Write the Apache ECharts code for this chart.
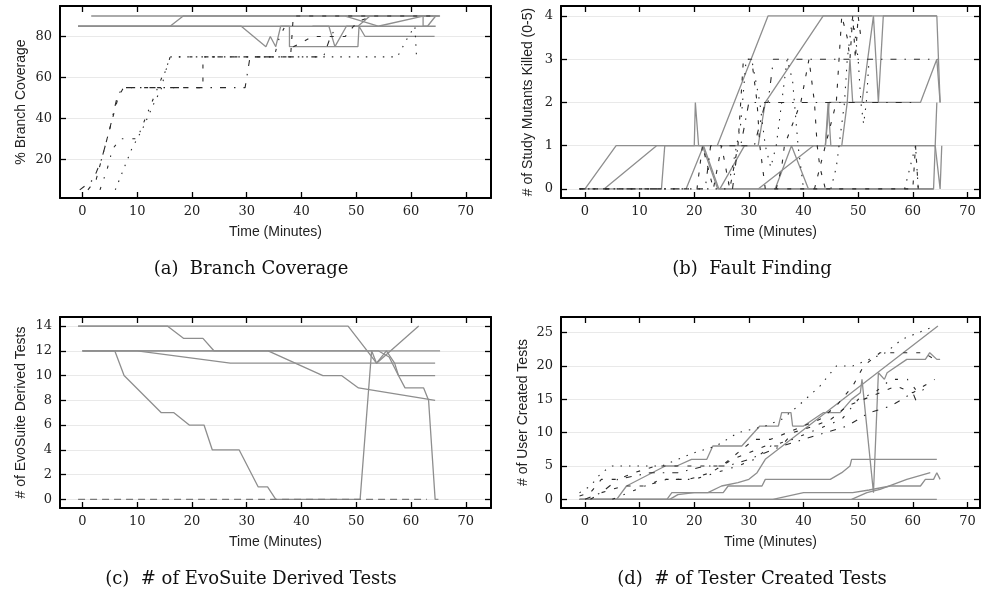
<!DOCTYPE html>
<html><head><meta charset="utf-8">
<script src="https://cdn.jsdelivr.net/npm/echarts@6/dist/echarts.min.js"></script>
<style>html,body{margin:0;padding:0;background:#fff}#c{width:981px;height:592px}</style>
</head><body><div id="c"></div>
<script>
// ---------- tick labels ----------
const xTicks = [0,10,20,30,40,50,60,70];
const yTicksA = [20,40,60,80];
const yTicksB = [0,1,2,3,4];
const yTicksC = [0,2,4,6,8,10,12,14];
const yTicksD = [0,5,10,15,20,25];

// ---------- text ----------
const xTitle = 'Time (Minutes)';
const yTitles = ['% Branch Coverage','# of Study Mutants Killed (0-5)','# of EvoSuite Derived Tests','# of User Created Tests'];
const captions = ['(a)  Branch Coverage','(b)  Fault Finding','(c)  # of EvoSuite Derived Tests','(d)  # of Tester Created Tests'];

// ---------- (a) Branch Coverage ----------
const a_g1 = [[1.6,90],[65.2,90]];
const a_g2 = [[-0.8,85],[16,85],[18.4,90],[65.3,90]];
const a_g3 = [[-0.8,85],[29,85],[33.5,75],[34.3,80],[35.3,75],[36.2,85],[64.5,85]];
const a_g4 = [[-0.8,85],[37.8,85],[37.8,75],[50.3,75],[50.5,85],[51.6,80],[64.3,80]];
const a_g5 = [[42,85],[45,85],[46.1,75],[48.2,85],[50.3,85],[52.5,90],[64,90]];
const a_g6 = [[48,90],[54,85],[62.2,90],[62.2,85],[63,85],[64.5,90]];
const a_k1 = [[-0.5,5],[2,10],[3.5,20],[5,35],[6.3,50],[7.3,55],[29.7,55],[30.6,70],[44,70],[45.3,80],[46.5,85]];
const a_k2 = [[1,5],[2.5,10],[3.5,20],[4.5,30],[5.5,40],[6.5,50],[7.5,55],[22,55],[22,70],[38,70],[38.5,90],[65,90]];
const a_k3 = [[3.2,5],[4.5,15],[5.5,25],[7,30],[10,30],[11.5,40],[13,50],[14.5,60],[15.5,65],[16,70],[35,70],[36,80],[37,85]];
const a_k4 = [[6,5],[7.5,15],[9,25],[11,35],[13,47],[14.5,55],[15,62],[16,70],[57.5,70],[59.5,80],[60.7,85],[61,70]];
const a_k5 = [[38.5,75],[40,77],[42,80],[44,80],[48,80],[49.5,85],[51,88],[53,90]];

// ---------- (b) Fault Finding ----------
const b_g1 = [[0,0],[5.7,1],[64.1,1],[65,0],[65.3,1]];
const b_g2 = [[3.5,0],[13.1,1],[20,1],[20.2,2],[20.8,1],[64.1,1],[64.4,2]];
const b_g3 = [[-1,0],[14,0],[14.6,1],[21.5,1],[24.3,0],[63.8,0],[64.1,1]];
const b_g4 = [[18.5,0],[21.7,1],[24.5,0],[63.8,0]];
const b_g5 = [[24.2,1],[33.5,4],[64.4,4],[65,2]];
const b_g6 = [[24.7,0],[29.2,1],[31.7,1],[33,2],[43.6,4],[52.5,4]];
const b_g7 = [[34.8,0],[37.8,1],[40.9,0],[63.8,0]];
const b_g8 = [[31.7,0],[41.8,1],[44,1],[44.5,2],[45,1],[47,1],[48,2],[48.5,3],[49,2],[50.7,2],[52.8,4],[53.7,2],[54.6,4],[64.4,4]];
const b_g9 = [[44,1],[44.7,2],[61.4,2],[64.4,3],[65,2]];
const b_k1 = [[-1,0],[20.5,0],[21.5,1],[22.5,0.5],[23.5,0],[25,1],[26.5,0],[28,1],[28.5,2],[29,3],[30.5,3],[31.5,2],[32,1],[33,0],[60,0],[60.5,1],[61,0]];
const b_k2 = [[-1,0],[22,0],[23,1],[28.5,1],[30,2],[33.5,2],[34.5,3],[64.6,3]];
const b_k3 = [[27,0],[28,1],[31,1],[33,2],[34,2],[61,2]];
const b_k4 = [[-1,0],[26,0],[27,0.5],[28.5,1.5],[29.5,3],[30.5,3],[32,2],[33,1],[34,0.5],[35,1],[36,2],[37,3],[38,2.5],[39,1],[40,0]];
const b_k5 = [[35,0],[36,0.5],[36.5,1],[38,1.5],[39.5,2],[41,3],[42,2],[42.5,1],[43,0.5],[44,0]];
const b_k6 = [[42,0],[43,0.5],[44,1],[45,1.5],[46,2],[46.5,3],[47,4],[48,3.5],[48.5,3],[49,4],[49.5,3],[50,4],[50.5,3.5]];
const b_k7 = [[45,0],[46,0.5],[46.5,1],[47.5,2],[48,3],[49,4],[49.5,3.5],[50,3],[50.5,2],[51,1.5],[51.5,2],[52,3]];
const b_k8 = [[58.5,0],[59.5,0.5],[60.5,1],[61,0]];

// ---------- (c) EvoSuite Derived Tests ----------
const c_g1 = [[-0.8,14],[15.5,14],[18.5,13],[22,13],[24,12],[65.3,12]];
const c_g2 = [[-0.8,14],[48.5,14],[52,12],[53.7,11],[55.5,12],[57,11],[57.7,10],[58.9,9],[62.3,9],[63.2,8],[64.4,0],[65,0]];
const c_g3 = [[0,12],[5.9,12],[7.6,10],[14.4,7],[16.7,7],[19.5,6],[22.2,6],[23.7,4],[28.6,4],[32.1,1],[33.8,1],[35.3,0],[50.7,0],[52.8,12],[53.7,11],[61.4,14]];
const c_g4 = [[0,12],[10,12],[27,11],[64.4,11]];
const c_g5 = [[0,12],[33.9,12],[43.9,10],[47.3,10],[50.4,9],[64.4,8]];
const c_g6 = [[0,12],[54,12],[56,11.5],[57.7,10],[64.4,10]];
const c_gd = [[-0.8,0],[62.9,0]];

// ---------- (d) Tester Created Tests ----------
const d_g1 = [[-1,0],[5.8,0],[7.6,2],[14.7,5],[16.8,5],[19.5,6],[22.3,6],[23.4,8],[28.7,8],[32,11],[35.4,11],[36,13],[37.7,13],[38,11],[40,11],[43.6,13],[46.7,13],[48.8,15],[50.4,16],[50.7,18],[52.8,1],[53.7,19],[54.8,18],[55.3,19],[58.9,21],[62.3,21],[63.1,22],[64.4,21],[65,21]];
const d_g2 = [[-1,0],[15.5,0],[17,0.7],[20,1],[22.5,1],[25,2],[28,2.5],[30,3],[31.5,4],[33,6],[64.6,26]];
const d_g3 = [[-1,0],[15,0],[15.9,1],[25.3,1],[26.2,2],[32.4,2],[33,3],[44.9,3],[47,4],[48.5,5],[48.8,6],[64.4,6]];
const d_g4 = [[-1,0],[34.4,0],[40,1],[49,1],[52,1.4],[55.9,2],[61.4,2],[62.3,3],[63.8,3],[64.4,4],[65,3]];
const d_g5 = [[48.8,0],[51.6,1],[54,1.5],[58.9,3],[63.2,4]];
const d_g6 = [[-1,0],[64.4,0]];
const d_k1 = [[-1,1],[1,2],[3,4],[5,5],[9,5],[14,5],[17,6],[20,7],[24,8],[28,10],[33,11],[36,12],[39,14],[43,17],[46,20],[49,20],[52,21],[55,22],[58,24],[61,25],[64,26]];
const d_k2 = [[-1,0.5],[1,1],[3,3],[6,3],[9,4],[13,5],[17,5],[21,5],[25,5],[28,7],[31,9],[34,9],[37,10],[40,11],[43,12],[46,14],[49,17],[51,20],[54,22],[58,22],[62,22],[64,21]];
const d_k3 = [[1,0],[3,1],[7,2],[11,2],[15,3],[19,3],[23,4],[27,6],[30,7],[33,8],[36,8],[38,10],[42,11],[45,12],[48,14],[51,15],[54,16],[57,17],[60,16],[62,17],[64,18]];
const d_k4 = [[0,0],[3,1],[6,3],[12,4],[17,4],[22,5],[26,5],[30,6],[33,7],[36,8],[40,9],[44,10],[48,11],[52,13],[56,14],[58,15],[60,16],[61,14]];
const d_k5 = [[5,0],[8,1],[11,2],[14,3],[20,3],[24,4],[28,5],[31,6],[34,8],[38,9],[41,10],[44,11],[47,12],[50,15],[53,16],[56,18],[59,18],[61,16],[63,17]];

// ---------- build ----------
const SERIF = '"DejaVu Serif", "Liberation Serif", serif';
const SANS = '"Liberation Sans", Arial, sans-serif';
const styles = {
  g:  {color:'#8e8e8e', width:1.3, type:'solid'},
  gd: {color:'#7a7a7a', width:1.4, type:[7,5]},
  k1: {color:'#2a2a2a', width:1.1, type:[4,9]},
  k2: {color:'#2a2a2a', width:1.1, type:[6,8,1.5,8]},
  k3: {color:'#2a2a2a', width:1.1, type:[1.5,7]},
  k4: {color:'#2a2a2a', width:1.1, type:[3,9,1.5,9]}
};
const grids = [
  {left:60, top:6, width:431, height:192},
  {left:561, top:6, width:419, height:192},
  {left:60, top:317, width:431, height:191},
  {left:561, top:317, width:419, height:191}
];
const xRanges = [[-4.1,74.6],[-4.39,72.3],[-4.1,74.6],[-4.39,72.3]];
const yRanges = [[1,94.9],[-0.21,4.23],[-0.70,14.73],[-1.3,27.36]];
const yTicksAll = [yTicksA,yTicksB,yTicksC,yTicksD];
const yGaps = [32,26,32,31];

const xAxis = [], yAxis = [];
grids.forEach((g,i)=>{
  const line = {onZero:false, lineStyle:{color:'#000', width:2}};
  xAxis.push({gridIndex:i, type:'value', position:'bottom', min:xRanges[i][0], max:xRanges[i][1],
    axisLine:line, axisTick:{inside:true, length:6, customValues:xTicks, lineStyle:{color:'#000', width:1.3}},
    axisLabel:{customValues:xTicks, fontFamily:SERIF, fontSize:13, color:'#222', margin:7},
    splitLine:{show:false},
    name:xTitle, nameLocation:'middle', nameGap:27, nameTextStyle:{fontFamily:SANS, fontSize:14, color:'#222'}});
  xAxis.push({gridIndex:i, type:'value', position:'top', min:xRanges[i][0], max:xRanges[i][1],
    axisLine:line, axisTick:{inside:true, length:6, customValues:xTicks, lineStyle:{color:'#000', width:1.3}},
    axisLabel:{show:false, customValues:xTicks}, splitLine:{show:false}});
  yAxis.push({gridIndex:i, type:'value', position:'left', min:yRanges[i][0], max:yRanges[i][1],
    axisLine:line, axisTick:{inside:true, length:6, customValues:yTicksAll[i], lineStyle:{color:'#000', width:1.3}},
    axisLabel:{customValues:yTicksAll[i], fontFamily:SERIF, fontSize:13, color:'#222', margin:8},
    splitLine:{show:true, lineStyle:{color:'#e9e9e9', width:1}},
    name:yTitles[i], nameLocation:'middle', nameGap:yGaps[i], nameRotate:90, nameTextStyle:{fontFamily:SANS, fontSize:14, color:'#222'}});
  yAxis.push({gridIndex:i, type:'value', position:'right', min:yRanges[i][0], max:yRanges[i][1],
    axisLine:line, axisTick:{inside:true, length:6, customValues:yTicksAll[i], lineStyle:{color:'#000', width:1.3}},
    axisLabel:{show:false, customValues:yTicksAll[i]}, splitLine:{show:false}});
});

const series = [];
function add(gi, data, st){
  series.push({type:'line', xAxisIndex:gi*2, yAxisIndex:gi*2, data:data, showSymbol:false, symbol:'none',
    lineStyle:Object.assign({}, styles[st]), silent:true, animation:false, z: st[0]==='k'?3:2});
}
[[a_g1,'g'],[a_g2,'g'],[a_g3,'g'],[a_g4,'g'],[a_g5,'g'],[a_g6,'g'],
 [a_k1,'k2'],[a_k2,'k1'],[a_k3,'k4'],[a_k4,'k3'],[a_k5,'k1']].forEach(p=>add(0,p[0],p[1]));
[[b_g1,'g'],[b_g2,'g'],[b_g3,'g'],[b_g4,'g'],[b_g5,'g'],[b_g6,'g'],[b_g7,'g'],[b_g8,'g'],[b_g9,'g'],
 [b_k1,'k1'],[b_k2,'k2'],[b_k3,'k2'],[b_k4,'k3'],[b_k5,'k1'],[b_k6,'k1'],[b_k7,'k3'],[b_k8,'k3']].forEach(p=>add(1,p[0],p[1]));
[[c_g1,'g'],[c_g2,'g'],[c_g3,'g'],[c_g4,'g'],[c_g5,'g'],[c_g6,'g'],[c_gd,'gd']].forEach(p=>add(2,p[0],p[1]));
[[d_g1,'g'],[d_g2,'g'],[d_g3,'g'],[d_g4,'g'],[d_g5,'g'],[d_g6,'g'],
 [d_k1,'k3'],[d_k2,'k1'],[d_k3,'k1'],[d_k4,'k2'],[d_k5,'k4']].forEach(p=>add(3,p[0],p[1]));

const capPos = [[251,269],[752,269],[251,579],[752,579]];
const graphic = captions.map((t,i)=>({type:'text', x:capPos[i][0], y:capPos[i][1],
  style:{text:t, font:'18px '+SERIF, fill:'#111', textAlign:'center', textVerticalAlign:'middle'}}));

const chart = echarts.init(document.getElementById('c'), null, {renderer:'canvas'});
chart.setOption({animation:false, backgroundColor:'#fff', grid:grids, xAxis:xAxis, yAxis:yAxis, series:series, graphic:graphic});
</script></body></html>
